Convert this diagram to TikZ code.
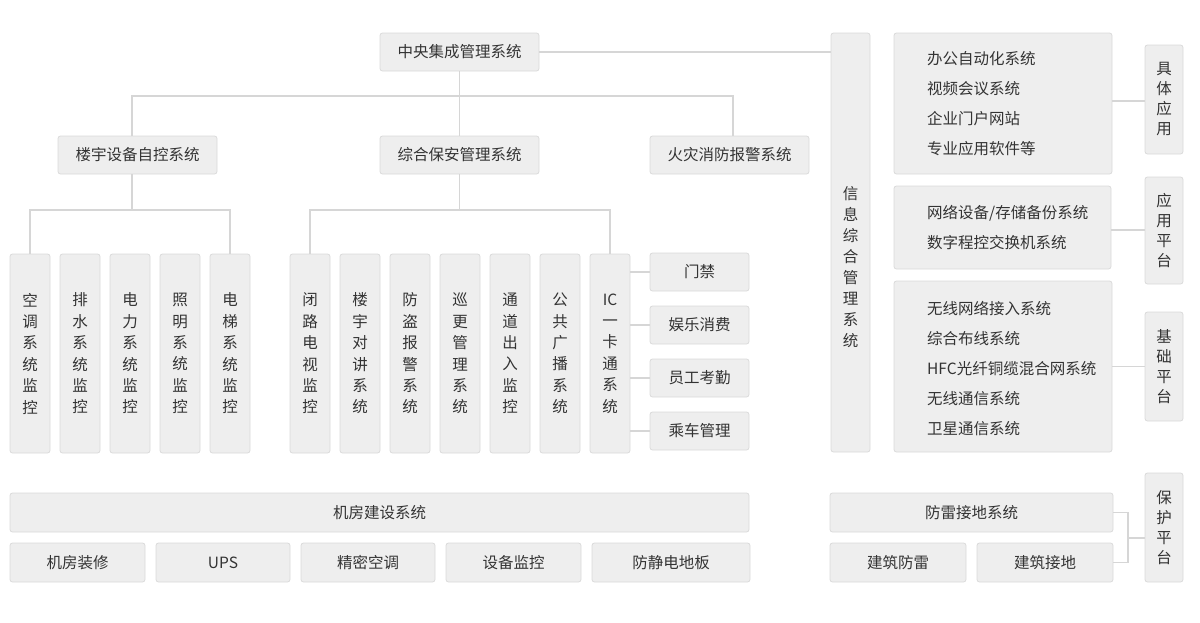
\documentclass[tikz,border=0pt]{standalone}
\usepackage{fontspec}
\newfontfamily\cjk{Noto Sans CJK SC}
\definecolor{boxfill}{HTML}{EEEEEE}
\definecolor{boxline}{HTML}{DADADA}
\definecolor{linegray}{HTML}{D6D6D6}
\definecolor{ink}{HTML}{333333}

\begin{document}
\begin{tikzpicture}[x=1pt, y=-1pt,
    box/.style={draw=boxline, fill=boxfill, rounded corners=2.5pt, line width=0.8pt,
        text=ink, inner sep=0pt, font=\cjk\fontsize{15.5}{18}\selectfont},
    vbox/.style={box, minimum width=40pt, minimum height=199pt, align=center,
        font=\cjk\fontsize{15.5}{21.4}\selectfont},
    sidebox/.style={box, minimum width=38pt, align=center,
        font=\cjk\fontsize{15.5}{20}\selectfont},
    list/.style={anchor=west, align=left, inner sep=0pt, text=ink,
        font=\cjk\fontsize{15.5}{30}\selectfont},
    link/.style={draw=linegray, line width=1.2pt}]
            \useasboundingbox (0,0) rectangle (1200,622);

            \node[box, minimum width=159pt, minimum height=38pt] (zy) at (459.5, 52) {中央集成管理系统};

            \node[box, minimum width=159pt, minimum height=38pt] (ly) at (137.5, 155) {楼宇设备自控系统};
            \node[box, minimum width=159pt, minimum height=38pt] (zb) at (459.5, 155) {综合保安管理系统};
            \node[box, minimum width=159pt, minimum height=38pt] (hz) at (729.5, 155) {火灾消防报警系统};

            \node[vbox] (a1) at (30, 353.5) {空\\调\\系\\统\\监\\控};
            \node[vbox] (a2) at (80, 353.5) {排\\水\\系\\统\\监\\控};
            \node[vbox] (a3) at (130, 353.5) {电\\力\\系\\统\\监\\控};
            \node[vbox] (a4) at (180, 353.5) {照\\明\\系\\统\\监\\控};
            \node[vbox] (a5) at (230, 353.5) {电\\梯\\系\\统\\监\\控};

            \node[vbox] (b1) at (310, 353.5) {闭\\路\\电\\视\\监\\控};
            \node[vbox] (b2) at (360, 353.5) {楼\\宇\\对\\讲\\系\\统};
            \node[vbox] (b3) at (410, 353.5) {防\\盗\\报\\警\\系\\统};
            \node[vbox] (b4) at (460, 353.5) {巡\\更\\管\\理\\系\\统};
            \node[vbox] (b5) at (510, 353.5) {通\\道\\出\\入\\监\\控};
            \node[vbox] (b6) at (560, 353.5) {公\\共\\广\\播\\系\\统};
            \node[vbox] (b7) at (610, 353.5) {IC\\一\\卡\\通\\系\\统};

            \node[box, minimum width=99pt, minimum height=38pt] (c1) at (699.5, 272) {门禁};
            \node[box, minimum width=99pt, minimum height=38pt] (c2) at (699.5, 325) {娱乐消费};
            \node[box, minimum width=99pt, minimum height=38pt] (c3) at (699.5, 378) {员工考勤};
            \node[box, minimum width=99pt, minimum height=38pt] (c4) at (699.5, 431) {乘车管理};

            \node[box, minimum width=39pt, minimum height=419pt] (xx) at (850.5, 242.5) {};
            \node[align=center, inner sep=0pt, text=ink, font=\cjk\fontsize{15.5}{21}\selectfont] (xxt) at (850.5, 267) {信\\息\\综\\合\\管\\理\\系\\统};

            \node[box, minimum width=218pt, minimum height=141pt] (r1) at (1003, 103.5) {};
            \node[list] (r1t) at (927, 104) {办公自动化系统\\视频会议系统\\企业门户网站\\专业应用软件等};
            \node[box, minimum width=217pt, minimum height=83pt] (r2) at (1002.5, 227.5) {};
            \node[list] (r2t) at (927, 228) {网络设备/存储备份系统\\数字程控交换机系统};
            \node[box, minimum width=218pt, minimum height=171pt] (r3) at (1003, 366.5) {};
            \node[list] (r3t) at (927, 369) {无线网络接入系统\\综合布线系统\\HFC光纤铜缆混合网系统\\无线通信系统\\卫星通信系统};

            \node[sidebox, minimum height=109pt] (p1) at (1164, 99.5) {具\\体\\应\\用};
            \node[sidebox, minimum height=107pt] (p2) at (1164, 230.5) {应\\用\\平\\台};
            \node[sidebox, minimum height=109pt] (p3) at (1164, 366.5) {基\\础\\平\\台};
            \node[sidebox, minimum height=109pt] (p4) at (1164, 527.5) {保\\护\\平\\台};

            \node[box, minimum width=739pt, minimum height=39pt] (jf) at (379.5, 512.5) {机房建设系统};
            \node[box, minimum width=135pt, minimum height=39pt] (d1) at (77.5, 562.5) {机房装修};
            \node[box, minimum width=134pt, minimum height=39pt] (d2) at (223, 562.5) {UPS};
            \node[box, minimum width=134pt, minimum height=39pt] (d3) at (368, 562.5) {精密空调};
            \node[box, minimum width=135pt, minimum height=39pt] (d4) at (513.5, 562.5) {设备监控};
            \node[box, minimum width=158pt, minimum height=39pt] (d5) at (671, 562.5) {防静电地板};

            \node[box, minimum width=283pt, minimum height=39pt] (fl) at (971.5, 512.5) {防雷接地系统};
            \node[box, minimum width=136pt, minimum height=39pt] (fd1) at (898, 562.5) {建筑防雷};
            \node[box, minimum width=136pt, minimum height=39pt] (fd2) at (1045, 562.5) {建筑接地};

            \coordinate (top) at (459.5, 96);
            \coordinate (lj) at (132, 210);
            \coordinate (bj) at (459.5, 210);
            \coordinate (fj) at (1128, 538);

            \draw[link] (zy.east) -- (zy.east -| xx.west);
            \draw[link] (zy.south) -- (zb.north);
            \draw[link] (ly.north -| lj) |- (top) -| ([xshift=3.5pt]hz.north);

            \draw[link] (ly.south -| lj) -- (lj);
            \draw[link] (a1.north) |- (lj) -| (a5.north);

            \draw[link] (zb.south) -- (bj);
            \draw[link] (b1.north) |- (bj) -| (b7.north);

            \draw[link] (c1.west) -- (c1.west -| b7.east);
            \draw[link] (c2.west) -- (c2.west -| b7.east);
            \draw[link] (c3.west) -- (c3.west -| b7.east);
            \draw[link] (c4.west) -- (c4.west -| b7.east);

            \draw[link] (p1.west |- 0,101) -- (r1.east |- 0,101);
            \draw[link] (p2.west |- 0,230) -- (r2.east |- 0,230);
            \draw[link] (p3.west) -- (r3.east);

            \draw[link] (fl.east) -| (fj) |- (fd2.east);
            \draw[link] (fj) -- (fj -| p4.west);
        \end{tikzpicture}
\end{document}
